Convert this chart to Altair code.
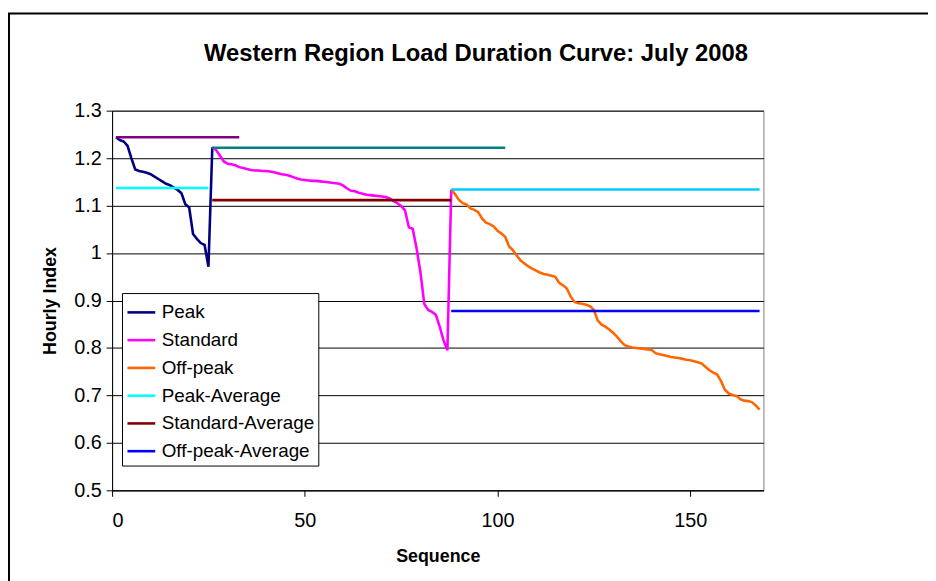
import altair as alt
import pandas as pd

# ---- data ----
peak_start = 1
peak = [1.244, 1.238, 1.235, 1.226, 1.200, 1.176, 1.173, 1.171, 1.169, 1.166,
        1.161, 1.156, 1.151, 1.146, 1.143, 1.138, 1.133, 1.126, 1.103, 1.096,
        1.040, 1.030, 1.021, 1.017, 0.971]

standard_start = 26
standard = [1.223, 1.217, 1.205, 1.193, 1.188, 1.187, 1.185, 1.181, 1.179, 1.177,
            1.175, 1.174, 1.174, 1.173, 1.173, 1.172, 1.170, 1.168, 1.166, 1.165,
            1.163, 1.160, 1.157, 1.155, 1.154, 1.153, 1.152, 1.152, 1.151, 1.150,
            1.149, 1.148, 1.147, 1.146, 1.142, 1.136, 1.131, 1.130, 1.127, 1.125,
            1.123, 1.122, 1.121, 1.120, 1.119, 1.118, 1.115, 1.110, 1.105, 1.099,
            1.090, 1.054, 1.051, 1.010, 0.960, 0.893, 0.880, 0.876, 0.870, 0.845,
            0.816, 0.795]

offpeak_start = 88
offpeak = [1.134, 1.124, 1.112, 1.105, 1.102, 1.094, 1.091, 1.086, 1.073, 1.064,
           1.061, 1.056, 1.047, 1.041, 1.034, 1.014, 1.006, 0.995, 0.984, 0.978,
           0.972, 0.967, 0.963, 0.959, 0.956, 0.954, 0.952, 0.950, 0.937, 0.932,
           0.925, 0.908, 0.897, 0.894, 0.893, 0.891, 0.888, 0.880, 0.858, 0.849,
           0.845, 0.839, 0.832, 0.824, 0.814, 0.806, 0.803, 0.801, 0.800, 0.799,
           0.798, 0.797, 0.796, 0.789, 0.787, 0.785, 0.783, 0.781, 0.780, 0.779,
           0.777, 0.775, 0.774, 0.772, 0.770, 0.767, 0.760, 0.753, 0.748, 0.744,
           0.730, 0.712, 0.704, 0.701, 0.699, 0.692, 0.689, 0.688, 0.686, 0.679,
           0.670]

# flat reference lines: (name, value, start, end)
flat_names = ["Peak-Average", "Standard-Average", "Off-peak-Average",
              "Peak-Max", "Standard-Max", "Off-peak-Max"]
flat_values = [1.137, 1.1115, 0.878, 1.244, 1.222, 1.134]
flat_starts = [1, 26, 88, 1, 26, 88]
flat_ends = [25, 88, 168, 33, 102, 168]

series_names = ["Peak", "Standard", "Off-peak", "Peak-Average", "Standard-Average",
                "Off-peak-Average", "Peak-Max", "Standard-Max", "Off-peak-Max"]
series_colors = ["#000080", "#FF00FF", "#FF6600", "#00FFFF", "#800000",
                 "#0000FF", "#800080", "#008080", "#00CCFF"]
legend_names = series_names[:6]

x_ticks = [0, 50, 100, 150]
y_ticks = [0.5, 0.6, 0.7, 0.8, 0.9, 1.0, 1.1, 1.2, 1.3]
title_text = "Western Region Load Duration Curve: July 2008"

# ---- build table ----
rows = []
for i, v in enumerate(peak):
    rows.append(("Peak", peak_start + i, v))
rows.append(("Peak", standard_start, standard[0]))
for i, v in enumerate(standard):
    rows.append(("Standard", standard_start + i, v))
rows.append(("Standard", offpeak_start, offpeak[0]))
for i, v in enumerate(offpeak):
    rows.append(("Off-peak", offpeak_start + i, v))
for n, v, s, e in zip(flat_names, flat_values, flat_starts, flat_ends):
    rows.append((n, s, v))
    rows.append((n, e, v))
df = pd.DataFrame(rows, columns=["series", "seq", "value"])

FONT = "Liberation Sans"

lines = alt.Chart(df).mark_line(strokeWidth=2.6, clip=True).encode(
    x=alt.X("seq:Q",
            scale=alt.Scale(domain=[0, 169], nice=False, zero=False),
            axis=alt.Axis(values=x_ticks, grid=False, title="Sequence",
                          tickSize=6, tickColor="black", domainColor="black",
                          labelFontSize=20, labelPadding=14, labelColor="black",
                          titleFontSize=18, titleFontWeight="bold", titlePadding=18,
                          titleColor="black", labelFont=FONT, titleFont=FONT)),
    y=alt.Y("value:Q",
            scale=alt.Scale(domain=[0.5, 1.3], nice=False, zero=False),
            axis=alt.Axis(values=y_ticks, format=".1~f", grid=True, gridColor="black",
                          gridWidth=1, title="Hourly Index", tickSize=6, tickColor="black",
                          domainColor="black", labelFontSize=20, labelPadding=5,
                          labelColor="black", titleFontSize=18, titleFontWeight="bold",
                          titlePadding=14, titleColor="black", labelFont=FONT,
                          titleFont=FONT)),
    color=alt.Color("series:N",
                    scale=alt.Scale(domain=series_names, range=series_colors),
                    sort=series_names,
                    legend=alt.Legend(values=legend_names, orient="none", legendX=10,
                                      legendY=184, title=None, symbolType="stroke",
                                      symbolStrokeWidth=2.6, symbolSize=784,
                                      labelFontSize=19, labelFont=FONT, labelColor="black",
                                      rowPadding=2, padding=4, labelOffset=5,
                                      fillColor="white", strokeColor="black",
                                      labelLimit=300)),
    order=alt.Order("seq:Q"),
)

border = alt.Chart(pd.DataFrame({"k": [0]})).mark_rect(
    filled=False, stroke="black", strokeWidth=2
).encode(
    x=alt.value(-104), x2=alt.value(900), y=alt.value(-98), y2=alt.value(520)
)

title = alt.Chart(pd.DataFrame({"t": [title_text]})).mark_text(
    font=FONT, fontSize=24, fontWeight="bold", color="black",
    align="center", baseline="alphabetic"
).encode(
    text="t:N", x=alt.value(367), y=alt.value(-50)
)

chart = alt.layer(border, lines, title).properties(
    width=657, height=383,
    autosize=alt.AutoSizeParams(type="none"),
    padding={"left": 105, "top": 101, "right": 166, "bottom": 100},
).configure_view(stroke="#808080", strokeWidth=1)

chart.save("out.html", embed_options={"renderer": "svg", "actions": False})
